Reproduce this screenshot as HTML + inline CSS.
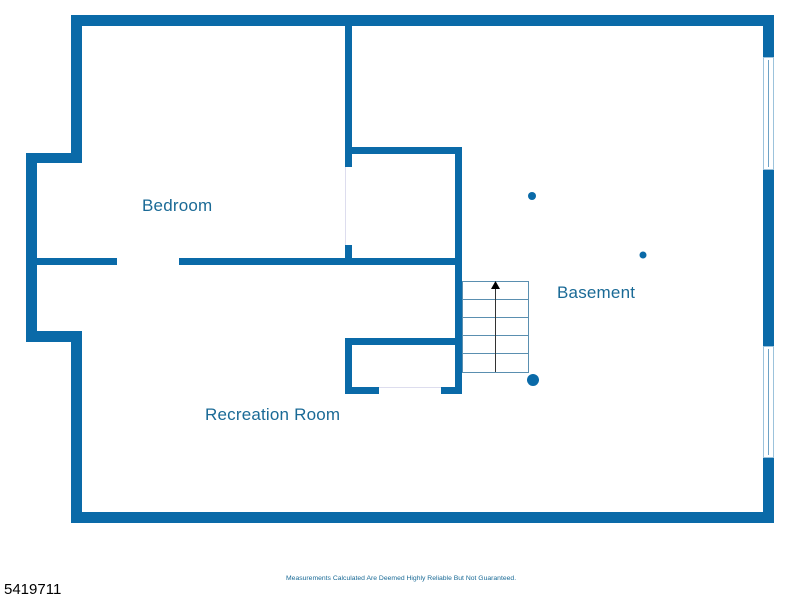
<!DOCTYPE html>
<html><head><style>
body{margin:0;width:800px;height:600px;background:#fff;overflow:hidden;position:relative;font-family:"Liberation Sans",sans-serif}
.w{position:absolute;background:#0a6aa8}
.g{position:absolute;background:#fff}
.t{position:absolute;color:#1a6a96;font-size:17px;letter-spacing:0.2px}
</style></head><body>
<div class="w" style="left:71px;top:15px;width:703px;height:11px"></div>
<div class="w" style="left:71px;top:15px;width:11px;height:148px"></div>
<div class="w" style="left:26px;top:153px;width:56px;height:10px"></div>
<div class="w" style="left:26px;top:153px;width:11px;height:189px"></div>
<div class="w" style="left:26px;top:331px;width:56px;height:11px"></div>
<div class="w" style="left:71px;top:331px;width:11px;height:192px"></div>
<div class="w" style="left:71px;top:512px;width:703px;height:11px"></div>
<div class="w" style="left:763px;top:15px;width:11px;height:508px"></div>
<div class="g" style="left:763px;top:57px;width:11px;height:113px;box-sizing:border-box;border:1px solid #9cc3dc"></div>
<div style="position:absolute;left:768px;top:60px;width:1px;height:107px;background:#6fa3c6"></div>
<div class="g" style="left:763px;top:346px;width:11px;height:112px;box-sizing:border-box;border:1px solid #9cc3dc"></div>
<div style="position:absolute;left:768px;top:349px;width:1px;height:106px;background:#6fa3c6"></div>
<div class="w" style="left:345px;top:26px;width:7px;height:239px"></div>
<div class="g" style="left:345px;top:167px;width:7px;height:78px;border-left:1px solid #dde"></div>
<div class="w" style="left:37px;top:258px;width:425px;height:7px"></div>
<div class="g" style="left:117px;top:258px;width:62px;height:7px"></div>
<div class="w" style="left:345px;top:147px;width:117px;height:7px"></div>
<div class="w" style="left:455px;top:147px;width:7px;height:247px"></div>
<div class="w" style="left:345px;top:338px;width:117px;height:7px"></div>
<div class="w" style="left:345px;top:338px;width:7px;height:56px"></div>
<div class="w" style="left:345px;top:387px;width:117px;height:7px"></div>
<div class="g" style="left:379px;top:387px;width:62px;height:7px;border-top:1px solid #dde"></div>
<svg style="position:absolute;left:0;top:0" width="800" height="600">
<g stroke="#5a8fb0" stroke-width="1" fill="none">
<rect x="462.5" y="281.5" width="66" height="91"/>
<line x1="462" y1="299.5" x2="529" y2="299.5"/>
<line x1="462" y1="317.5" x2="529" y2="317.5"/>
<line x1="462" y1="335.5" x2="529" y2="335.5"/>
<line x1="462" y1="353.5" x2="529" y2="353.5"/>
</g>
<line x1="495.5" y1="288" x2="495.5" y2="372" stroke="#333" stroke-width="1"/>
<polygon points="495.5,281 491,289 500,289" fill="#000"/>
<circle cx="532" cy="196" r="4" fill="#0a6aa8"/>
<circle cx="643" cy="255" r="3.5" fill="#0a6aa8"/>
<circle cx="533" cy="380" r="6" fill="#0a6aa8"/>
</svg>
<div class="t" style="left:142px;top:196px">Bedroom</div>
<div class="t" style="left:557px;top:283px">Basement</div>
<div class="t" style="left:205px;top:405px">Recreation Room</div>
<div style="position:absolute;left:286px;top:575px;font-size:6.8px;color:#1a6a96">Measurements Calculated Are Deemed Highly Reliable But Not Guaranteed.</div>
<div style="position:absolute;left:4px;top:581px;font-size:15px;color:#000">5419711</div>
</body></html>
